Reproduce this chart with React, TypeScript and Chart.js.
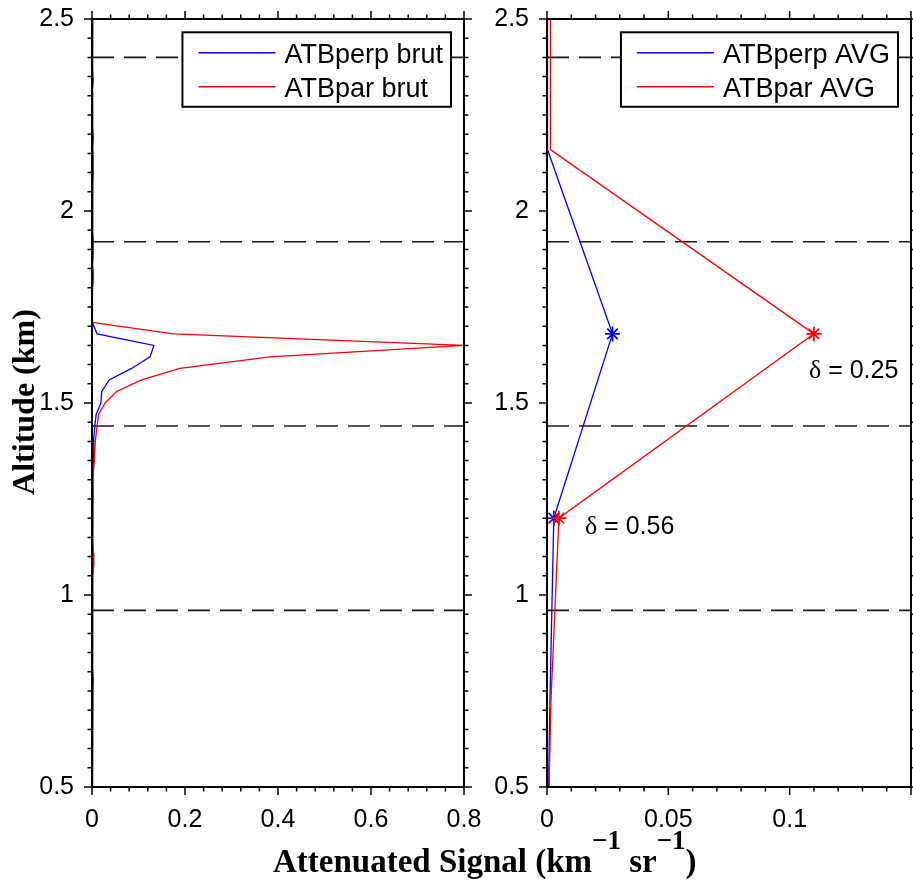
import React, { useEffect, useRef } from "react";
import { Chart, registerables } from "chart.js";

Chart.register(...registerables);

// Raw lidar profiles: altitude levels (km), top to bottom
const rawAltitude = [
  2.52, 2.49, 2.46, 2.43, 2.4, 2.37, 2.34, 2.31, 2.28, 2.25, 2.22, 2.19, 2.16,
  2.13, 2.1, 2.07, 2.04, 2.01, 1.98, 1.95, 1.92, 1.89, 1.86, 1.83, 1.8, 1.77,
  1.74, 1.71, 1.68, 1.65, 1.62, 1.59, 1.56, 1.53, 1.5, 1.47, 1.44, 1.41, 1.38,
  1.35, 1.32, 1.29, 1.26, 1.23, 1.2, 1.17, 1.14, 1.11, 1.08, 1.05, 1.02, 0.99,
  0.96, 0.93, 0.9, 0.87, 0.84, 0.81, 0.78, 0.75, 0.72, 0.69, 0.66, 0.63, 0.6,
  0.57, 0.54, 0.51, 0.48,
];

// Perpendicular attenuated backscatter (km-1 sr-1)
const perpBrut = [
  0.0, 0.001, 0.0, 0.001, 0.0, 0.001, 0.0, 0.001, 0.0, 0.001, 0.002, 0.003, 0.001,
  0.002, 0.003, 0.001, 0.0, 0.001, 0.001, 0.002, 0.003, 0.002, 0.001, 0.003, 0.001, 0.0,
  0.001, 0.0, 0.011, 0.133, 0.125, 0.085, 0.037, 0.021, 0.019, 0.009, 0.006, 0.004, 0.003,
  0.003, 0.002, 0.001, 0.002, 0.001, 0.002, 0.001, 0.001, 0.002, 0.003, 0.001, 0.001, 0.001,
  0.0, 0.001, 0.001, 0.0, 0.001, 0.002, 0.003, 0.002, 0.001, 0.0, 0.001, 0.0, 0.001,
  0.0, 0.001, 0.0, 0.0,
];

// Parallel attenuated backscatter (km-1 sr-1)
const parBrut = [
  0.002, 0.002, 0.001, 0.002, 0.001, 0.002, 0.003, 0.001, 0.002, 0.001, 0.002, 0.001, 0.002,
  0.003, 0.002, 0.001, 0.002, 0.001, 0.002, 0.001, 0.002, 0.003, 0.001, 0.003, 0.001, 0.002,
  0.001, 0.0, 0.175, 0.8, 0.383, 0.189, 0.107, 0.053, 0.028, 0.014, 0.011, 0.008, 0.006,
  0.005, 0.003, 0.002, 0.003, 0.002, 0.002, 0.001, 0.002, 0.003, 0.004, 0.002, 0.001, 0.002,
  0.001, 0.001, 0.002, 0.001, 0.001, 0.002, 0.001, 0.002, 0.001, 0.001, 0.002, 0.001, 0.001,
  0.002, 0.001, 0.001, 0.001,
];

// Layer-averaged profiles (0.48 km layers, centre altitudes)
const avgAltitude = [2.64, 2.16, 1.68, 1.2, 0.72, 0.24];
const perpAvg = [0.0002, 0.0002, 0.027, 0.0028, 0.0012, 0.0];
const parAvg = [0.0014, 0.0014, 0.11, 0.0049, 0.0016, 0.0];
// Volume depolarisation ratio of the marked layers
const depolRatio: (number | null)[] = [null, null, 0.25, 0.56, null, null];

// Layer boundaries (km)
const layerBounds = [0.96, 1.44, 1.92, 2.4];

const BLUE = "#0000ff";
const RED = "#ff0000";
const SANS = "'Liberation Sans', Arial, Helvetica, sans-serif";
const SERIF = "'Liberation Serif', 'Times New Roman', serif";

// where the δ annotation sits relative to the red marker (px)
const deltaShift: ([number, number] | null)[] = [null, null, [-5, 44], [26, 16], null, null];

const fmt = (v: number) => String(Math.round(v * 1000) / 1000);

type PanelSpec = {
  xMax: number;
  xMajor: number;
  xMinorPerMajor: number;
  yAxisWidth: number;
  padRight: number;
  hideXLabelAbove: number;
  series: { label: string; color: string; alt: number[]; values: number[]; markers?: (number | null)[] }[];
  annotate?: boolean;
};

function makeDecor(spec: PanelSpec) {
  return {
    id: "panelDecor",
    beforeDatasetsDraw(chart: any) {
      const { ctx, chartArea: a, scales } = chart;
      const ys = scales.y;
      ctx.save();
      ctx.strokeStyle = "#1a1a1a";
      ctx.lineWidth = 1.6;
      ctx.setLineDash([22, 10]);
      for (const b of layerBounds) {
        const y = ys.getPixelForValue(b);
        ctx.beginPath();
        ctx.moveTo(a.left, y);
        ctx.lineTo(a.right, y);
        ctx.stroke();
      }
      ctx.restore();
    },
    afterDatasetsDraw(chart: any) {
      const { ctx, chartArea: a, scales } = chart;
      const xs = scales.x;
      const ys = scales.y;
      ctx.save();
      ctx.setLineDash([]);
      ctx.strokeStyle = "#000";
      // outward tick marks on all four sides
      ctx.lineWidth = 1.5;
      const yMinor = 0.05;
      const yCount = Math.round((2.5 - 0.5) / yMinor);
      for (let i = 0; i <= yCount; i++) {
        const y = ys.getPixelForValue(0.5 + i * yMinor);
        const len = i % 10 === 0 ? 8 : 4.5;
        ctx.beginPath();
        ctx.moveTo(a.left, y);
        ctx.lineTo(a.left - len, y);
        ctx.moveTo(a.right, y);
        ctx.lineTo(a.right + len, y);
        ctx.stroke();
      }
      const xMinor = spec.xMajor / spec.xMinorPerMajor;
      const xCount = Math.round(spec.xMax / xMinor);
      for (let i = 0; i <= xCount; i++) {
        const x = xs.getPixelForValue(i * xMinor);
        const len = i % spec.xMinorPerMajor === 0 ? 8 : 4.5;
        ctx.beginPath();
        ctx.moveTo(x, a.bottom);
        ctx.lineTo(x, a.bottom + len);
        ctx.moveTo(x, a.top);
        ctx.lineTo(x, a.top - len);
        ctx.stroke();
      }
      // frame
      ctx.lineWidth = 2;
      ctx.strokeRect(a.left, a.top, a.right - a.left, a.bottom - a.top);

      // δ annotations next to the averaged markers
      if (spec.annotate) {
        const meta = chart.getDatasetMeta(1);
        depolRatio.forEach((d, i) => {
          const sh = deltaShift[i];
          if (d == null || !sh) return;
          const pt = meta.data[i];
          const x = pt.x + sh[0];
          const y = pt.y + sh[1];
          ctx.fillStyle = "#000";
          ctx.textBaseline = "alphabetic";
          ctx.textAlign = "left";
          ctx.font = `26px ${SERIF}`;
          ctx.fillText("δ", x, y);
          const w = ctx.measureText("δ").width;
          ctx.font = `25px ${SANS}`;
          ctx.fillText(` = ${d.toFixed(2)}`, x + w, y);
        });
      }

      // legend box
      ctx.font = `27px ${SANS}`;
      const labels = spec.series.map((s) => s.label);
      const tw = Math.max(...labels.map((l) => ctx.measureText(l).width));
      const w = 101 + tw + 9;
      const h = 74.5;
      const bx = a.right - 13 - w;
      const by = a.top + 13.3;
      ctx.fillStyle = "#fff";
      ctx.fillRect(bx, by, w, h);
      ctx.lineWidth = 2;
      ctx.strokeStyle = "#000";
      ctx.strokeRect(bx, by, w, h);
      spec.series.forEach((s, k) => {
        const ry = by + 20.4 + k * 34;
        ctx.strokeStyle = s.color;
        ctx.lineWidth = 1.5;
        ctx.beginPath();
        ctx.moveTo(bx + 16, ry);
        ctx.lineTo(bx + 93, ry);
        ctx.stroke();
        ctx.fillStyle = "#000";
        ctx.textAlign = "left";
        ctx.textBaseline = "alphabetic";
        ctx.fillText(s.label, bx + 102, ry + 10);
      });
      ctx.restore();
    },
  };
}

function buildConfig(spec: PanelSpec): any {
  const tickFont = { family: SANS, size: 25 };
  // invisible tick marks reserve the gap between frame and labels
  const spacer = {
    display: true,
    drawOnChartArea: false,
    drawTicks: true,
    tickLength: 18,
    tickColor: "rgba(0,0,0,0)",
  };
  return {
    type: "scatter",
    data: {
      datasets: spec.series.map((s, k) => ({
        label: s.label,
        data: s.alt.map((a, i) => ({ x: s.values[i], y: a })),
        showLine: true,
        borderColor: s.color,
        backgroundColor: s.color,
        borderWidth: 1.3,
        tension: 0,
        order: k === 0 ? 1 : 0,
        pointStyle: "star",
        pointBorderWidth: 1.7,
        pointRadius: (c: any) => (s.markers && s.markers[c.dataIndex] != null ? 7.5 : 0),
        pointHoverRadius: 0,
      })),
    },
    options: {
      responsive: false,
      animation: false,
      events: [],
      layout: { padding: { left: 0, top: 19, right: spec.padRight, bottom: 0 } },
      plugins: { legend: { display: false }, tooltip: { enabled: false } },
      scales: {
        x: {
          type: "linear",
          min: 0,
          max: spec.xMax,
          grid: spacer,
          border: { display: false },
          ticks: {
            stepSize: spec.xMajor,
            autoSkip: false,
            maxRotation: 0,
            padding: 0,
            color: "#000",
            font: tickFont,
            callback: (v: number) => (v > spec.hideXLabelAbove ? "" : fmt(v)),
          },
          afterFit: (s: any) => {
            s.height = 94;
          },
        },
        y: {
          type: "linear",
          min: 0.5,
          max: 2.5,
          grid: spacer,
          border: { display: false },
          ticks: {
            stepSize: 0.5,
            padding: 0,
            color: "#000",
            font: tickFont,
            callback: (v: number) => fmt(v),
          },
          afterFit: (s: any) => {
            s.width = spec.yAxisWidth;
          },
        },
      },
    },
    plugins: [makeDecor(spec)],
  };
}

const rawSpec: PanelSpec = {
  xMax: 0.8,
  xMajor: 0.2,
  xMinorPerMajor: 5,
  yAxisWidth: 92,
  padRight: 36,
  hideXLabelAbove: 10,
  series: [
    { label: "ATBperp brut", color: BLUE, alt: rawAltitude, values: perpBrut },
    { label: "ATBpar brut", color: RED, alt: rawAltitude, values: parBrut },
  ],
};

const avgSpec: PanelSpec = {
  xMax: 0.15,
  xMajor: 0.05,
  xMinorPerMajor: 5,
  yAxisWidth: 82,
  padRight: 2,
  hideXLabelAbove: 0.12,
  annotate: true,
  series: [
    { label: "ATBperp AVG", color: BLUE, alt: avgAltitude, values: perpAvg, markers: depolRatio },
    { label: "ATBpar AVG", color: RED, alt: avgAltitude, values: parAvg, markers: depolRatio },
  ],
};

export default function App() {
  const leftRef = useRef<HTMLCanvasElement>(null);
  const rightRef = useRef<HTMLCanvasElement>(null);

  useEffect(() => {
    const c1 = new Chart(leftRef.current as HTMLCanvasElement, buildConfig(rawSpec));
    const c2 = new Chart(rightRef.current as HTMLCanvasElement, buildConfig(avgSpec));
    return () => {
      c1.destroy();
      c2.destroy();
    };
  }, []);

  const supStyle: React.CSSProperties = {
    fontSize: 27,
    position: "relative",
    top: -23,
  };

  return (
    <div
      style={{
        position: "absolute",
        left: 0,
        top: 0,
        width: 913,
        height: 881,
        background: "#fff",
        overflow: "hidden",
      }}
    >
      <canvas ref={leftRef} width={500} height={881} style={{ position: "absolute", left: 0, top: 0 }} />
      <canvas ref={rightRef} width={448} height={881} style={{ position: "absolute", left: 465, top: 0 }} />
      <div
        style={{
          position: "absolute",
          left: 0,
          top: 0,
          width: 300,
          textAlign: "center",
          fontFamily: SERIF,
          fontWeight: "bold",
          fontSize: 32,
          lineHeight: "32px",
          whiteSpace: "nowrap",
          transformOrigin: "0 0",
          transform: "translate(7px, 552px) rotate(-90deg)",
        }}
      >
        Altitude (km)
      </div>
      <div
        style={{
          position: "absolute",
          left: 273,
          top: 845,
          fontFamily: SERIF,
          fontWeight: "bold",
          fontSize: 33,
          lineHeight: "33px",
          whiteSpace: "nowrap",
        }}
      >
        Attenuated Signal (km<span style={supStyle}>−1</span> sr<span style={supStyle}>−1</span>)
      </div>
    </div>
  );
}
